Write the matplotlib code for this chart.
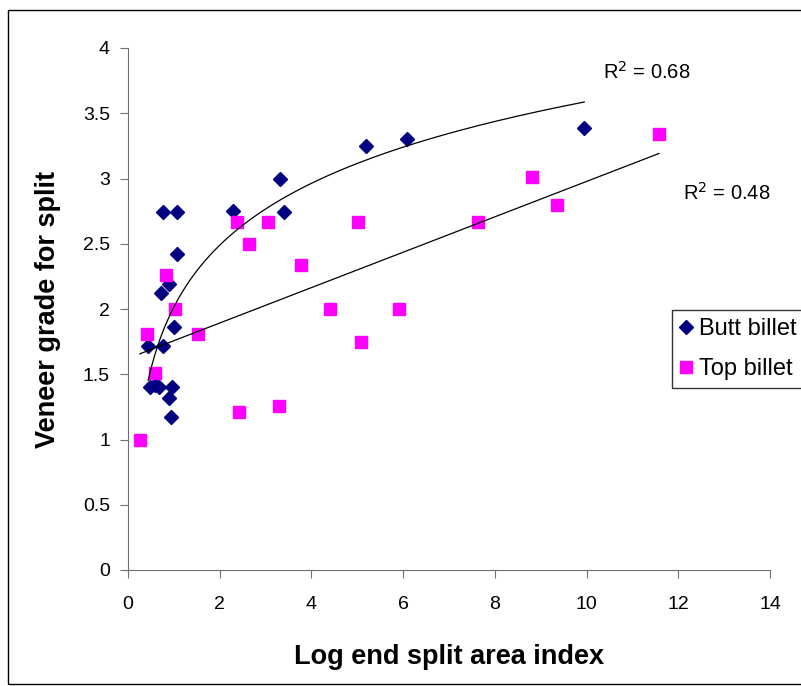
import numpy as np
import matplotlib
matplotlib.use("Agg")
from matplotlib import pyplot as plt
from matplotlib.patches import Rectangle

plt.rcParams['font.family'] = ['Liberation Sans', 'DejaVu Sans']

# Butt billet data
butt_x = [0.77, 1.06, 1.06, 0.89, 0.72, 1.01, 0.44, 0.77, 0.48, 0.59, 0.68, 0.97,
          0.89, 0.93, 2.30, 3.32, 3.41, 5.20, 6.08, 9.95]
butt_y = [2.74, 2.74, 2.42, 2.19, 2.12, 1.86, 1.72, 1.72, 1.40, 1.42, 1.40, 1.40,
          1.32, 1.17, 2.75, 3.00, 2.74, 3.25, 3.30, 3.39]

# Top billet data
top_x = [0.83, 1.03, 0.42, 1.53, 0.59, 0.26, 2.43, 3.29, 2.38, 3.05, 2.64, 3.78,
         5.01, 7.63, 8.82, 9.35, 4.40, 5.91, 5.09, 11.58]
top_y = [2.26, 2.00, 1.81, 1.81, 1.51, 1.00, 1.21, 1.26, 2.67, 2.67, 2.50, 2.34,
         2.67, 2.67, 3.01, 2.80, 2.00, 2.00, 1.75, 3.34]

r2_labels = ["0.68", "0.48"]

fig = plt.figure(figsize=(8.01, 6.86), dpi=100)
ax = fig.add_axes([128/801, 1-570/686, (770-128)/801, (570-48)/686])

# chart border
fig.patches.append(Rectangle((8/801, 1-684/686), 1.0, 674/686, transform=fig.transFigure,
                             fill=False, edgecolor='black', linewidth=1.0))

ax.plot(butt_x, butt_y, 'D', color='#000080', markersize=7.5, linestyle='none', label='Butt billet')
ax.plot(top_x, top_y, 's', color='#FF00FF', markersize=8, linestyle='none', label='Top billet')

# logarithmic trendline (butt)
a, b = np.polyfit(np.log(butt_x), butt_y, 1)
xs = np.linspace(min(butt_x), max(butt_x), 200)
ax.plot(xs, a*np.log(xs) + b, color='black', linewidth=0.9)

# linear trendline (top)
m, c = np.polyfit(top_x, top_y, 1)
xs2 = np.array([min(top_x), max(top_x)])
ax.plot(xs2, m*xs2 + c, color='black', linewidth=0.9)

ax.text(10.36, 3.82, "R$^2$ = " + r2_labels[0], fontsize=14.5, va='center')
ax.text(12.1, 2.89, "R$^2$ = " + r2_labels[1], fontsize=14.5, va='center')

ax.set_xlim(0, 14)
ax.set_ylim(0, 4)
ax.set_xticks(np.arange(0, 15, 2))
ax.set_yticks(np.arange(0, 4.01, 0.5))
ax.set_yticklabels(['0', '0.5', '1', '1.5', '2', '2.5', '3', '3.5', '4'])
ax.tick_params(labelsize=14, direction='out', length=6, width=0.8, color='#707070')
ax.tick_params(axis='x', pad=13)
ax.tick_params(axis='y', pad=7)
for s in ['top', 'right']:
    ax.spines[s].set_visible(False)
for s in ['left', 'bottom']:
    ax.spines[s].set_linewidth(0.8)
    ax.spines[s].set_color('#707070')

ax.set_xlabel("Log end split area index", fontsize=19.5, fontweight='bold', labelpad=22)
ax.set_ylabel("Veneer grade for split", fontsize=19.5, fontweight='bold', labelpad=16)

leg = ax.legend(loc='upper left', bbox_to_anchor=(672/801, 1-310/686),
                bbox_transform=fig.transFigure, fontsize=17, frameon=True,
                fancybox=False, handlelength=0.5, handletextpad=0.3,
                borderpad=0.35, labelspacing=0.75, borderaxespad=0)
leg.get_frame().set_edgecolor('black')
leg.get_frame().set_linewidth(1.0)

fig.savefig("out.png", dpi=100)
